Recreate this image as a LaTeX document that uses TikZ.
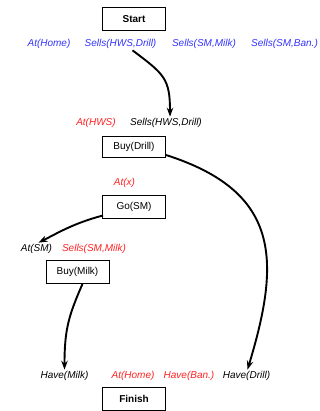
\documentclass[tikz,border=0pt]{standalone}
\usepackage{fontspec}
\setmainfont{Liberation Sans}
\usepackage{tikz}
\usetikzlibrary{arrows, arrows.meta}
\definecolor{precblue}{RGB}{51,51,255}
\definecolor{precred}{RGB}{255,34,34}
\tikzstyle{action} = [rectangle, draw=black, line width=0.9pt, minimum width=63pt,
minimum height=23pt, inner sep=0pt, text centered, font=\fontsize{10}{12}\selectfont]
\tikzstyle{goal} = [action, font=\fontsize{10}{12}\selectfont\bfseries]
\tikzstyle{lit} = [inner sep=1.5pt, font=\fontsize{10}{12}\selectfont\itshape]
\tikzstyle{arrow} =
[line width=1.9pt,->,>={Stealth[length=9pt,width=6.5pt,inset=3pt]}]

\begin{document}
\begin{tikzpicture}[x=1pt,y=-1pt]
\useasboundingbox (0,0) rectangle (320,411);

\node(start)[goal] at (134,19){Start};
\node(home)[lit, text=precblue] at (49,44){At(Home)};
\node(sellsdrill)[lit, text=precblue] at (120.5,44){Sells(HWS,Drill)};
\node(sellsmilk)[lit, text=precblue] at (204,44){Sells(SM,Milk)};
\node(sellsban)[lit, text=precblue] at (284.5,44){Sells(SM,Ban.)};

\node(athws)[lit, text=precred] at (96,123){At(HWS)};
\node(needsells)[lit] at (166,123){Sells(HWS,Drill)};
\node(buydrill)[action, minimum height=21pt] at (134,147){Buy(Drill)};

\node(atx)[lit, text=precred] at (124.5,183){At(x)};
\node(gosm)[action] at (134,206.5){Go(SM)};

\node(atsm)[lit] at (36.5,249){At(SM)};
\node(needmilk)[lit, text=precred] at (94,249){Sells(SM,Milk)};
\node(buymilk)[action] at (77.5,272){Buy(Milk)};

\node(havemilk)[lit] at (64.5,376){Have(Milk)};
\node(athome)[lit, text=precred] at (133,376){At(Home)};
\node(haveban)[lit, text=precred] at (189,376){Have(Ban.)};
\node(havedrill)[lit] at (246.5,376){Have(Drill)};
\node(finish)[goal] at (134,399){Finish};

\draw[arrow]([xshift=12pt]sellsdrill.south) .. controls +(32,24) and +(0,-38) ..
([xshift=4pt]needsells.north);
\draw[arrow]([yshift=-8pt]buydrill.east) .. controls (282,192) and (280,262) ..
([xshift=1pt]havedrill.north);
\draw[arrow]([xshift=1pt,yshift=3pt]gosm.south west) .. controls +(-30,8) and +(20,-10) ..
([xshift=2pt]atsm.north);
\draw[arrow]([xshift=5pt]buymilk.south) .. controls +(-14,32) and +(0,-40) ..
(havemilk.north);

\end{tikzpicture}
\end{document}
